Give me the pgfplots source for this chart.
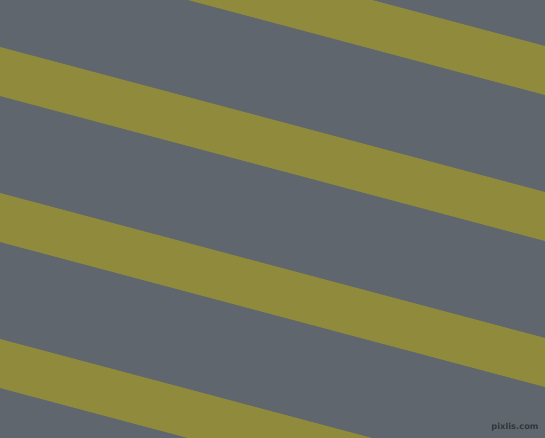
\documentclass[border=0pt]{standalone}
\usepackage{pgfplots}
\pgfplotsset{compat=1.18}
\usepackage{fontspec}
\setsansfont{DejaVu Sans}
\definecolor{bggray}{RGB}{95,102,109}
\definecolor{olive}{RGB}{144,138,60}
\definecolor{mark}{RGB}{50,53,57}
\begin{document}
\begin{tikzpicture}
\begin{axis}[width=545pt,height=438pt,scale only axis,
  xmin=0,xmax=545,ymin=0,ymax=438,y dir=reverse,
  hide axis,clip=true,
  axis background/.style={fill=bggray}]
\addplot[fill=olive,draw=none] coordinates {(0,-99)(545,46)(545,95)(0,-50)} -- cycle;
\addplot[fill=olive,draw=none] coordinates {(0,47)(545,192)(545,241)(0,96)} -- cycle;
\addplot[fill=olive,draw=none] coordinates {(0,193)(545,338)(545,387)(0,242)} -- cycle;
\addplot[fill=olive,draw=none] coordinates {(0,339)(545,484)(545,533)(0,388)} -- cycle;
\node[text=mark,font=\sffamily\bfseries\fontsize{8.3}{9}\selectfont,inner sep=0pt] at (axis cs:515,427.5) {pixlis.com};
\end{axis}
\pgfresetboundingbox
\useasboundingbox (current axis.south west) rectangle (current axis.north east);
\end{tikzpicture}
\end{document}
